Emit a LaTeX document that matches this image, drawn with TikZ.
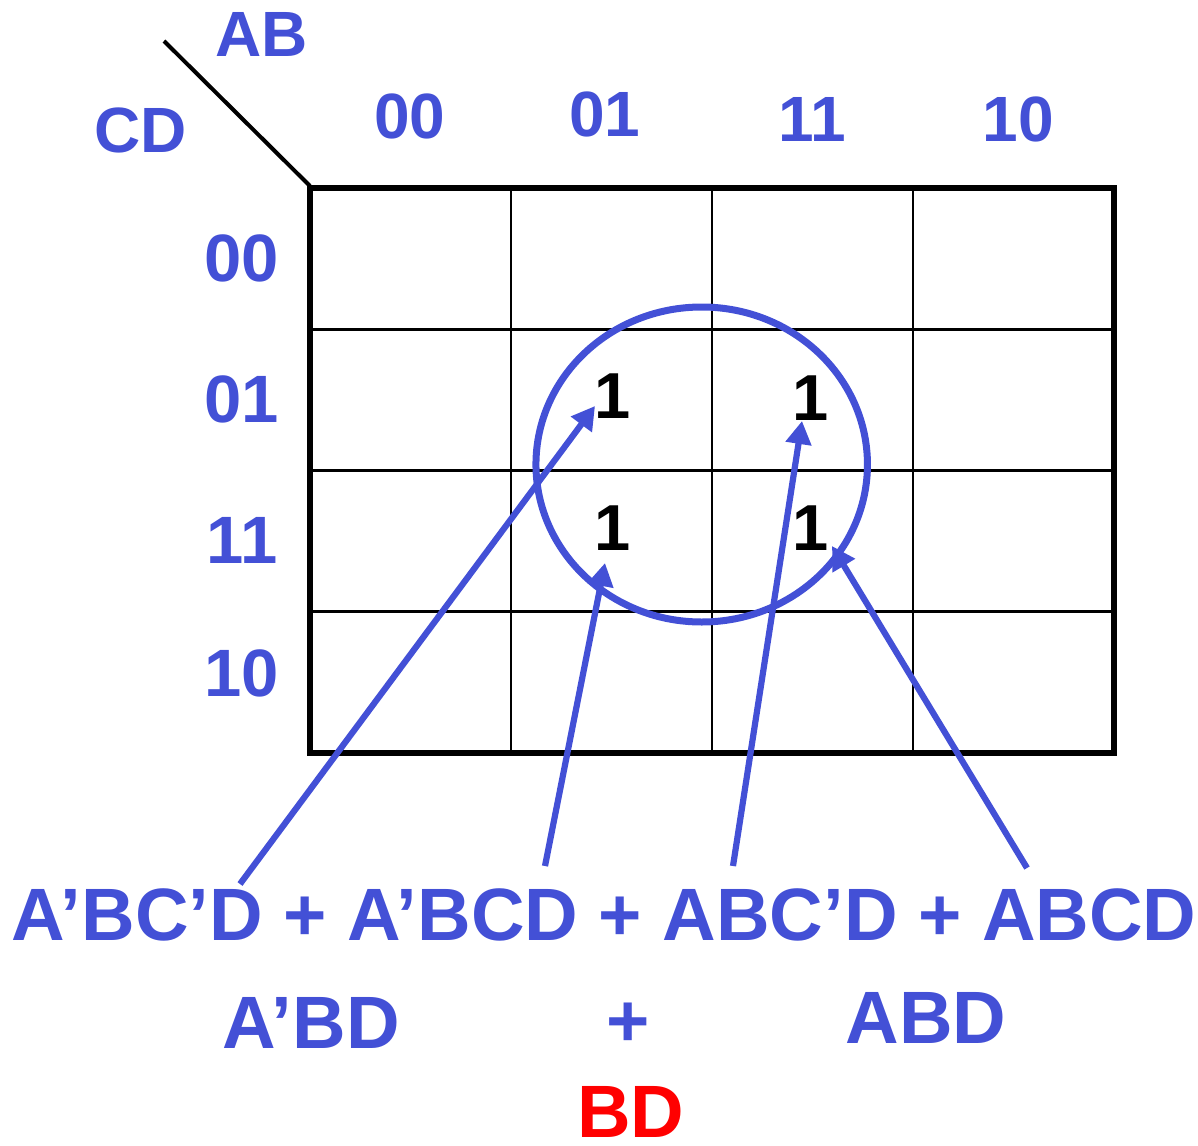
\documentclass[tikz,border=0pt]{standalone}
\usepackage{fontspec}
\setmainfont{Liberation Sans}
\usetikzlibrary{arrows.meta}
\definecolor{kblue}{RGB}{67,80,214}
\definecolor{kred}{RGB}{255,0,0}
\begin{document}
\begin{tikzpicture}[x=1pt,y=-1pt,
  hdr/.style={text=kblue, inner sep=0, anchor=base, font=\bfseries\fontsize{64}{70}\selectfont},
  rowlab/.style={text=kblue, inner sep=0, anchor=base, font=\bfseries\fontsize{67}{72}\selectfont},
  one/.style={text=black, inner sep=0, anchor=base, font=\bfseries\fontsize{65}{70}\selectfont},
  expr/.style={text=kblue, inner sep=0, anchor=base, font=\bfseries\fontsize{74.2}{80}\selectfont},
  thin/.style={line width=2.6pt, black},
  thick/.style={line width=5.5pt, black},
  ptr/.style={draw=kblue, line width=6.2pt, -{Triangle[length=23pt,width=25pt]}},
  loop/.style={draw=kblue, line width=7pt}
]
\useasboundingbox (0,0) rectangle (1198,1145);

% grid
\foreach \x in {511,712,913} \draw[thin] (\x,188) -- (\x,753);
\foreach \y in {329.25,470.5,611.75} \draw[thin] (310,\y) -- (1114,\y);
\draw[thick] (310,188) rectangle (1114,753);
\coordinate (corner) at (310,186);
\coordinate (diagend) at (164,41);
\draw[line width=4pt] (diagend) -- (corner);

% header labels
\node[hdr] (AB) at (262,57) {AB};
\node[hdr] (CD) at (141,152) {CD};
\node[hdr] (c00) at (410,139) {00};
\node[hdr] (c01) at (605,136.7) {01};
\node[hdr] (c11) at (812,141.7) {11};
\node[hdr] (c10) at (1018,141.7) {10};
\node[rowlab] (r00) at (242,281.5) {00};
\node[rowlab] (r01) at (242,422) {01};
\node[rowlab] (r11) at (242,563) {11};
\node[rowlab] (r10) at (242,696) {10};

% ones
\node[one] (m5) at (612.5,418) {1};
\node[one] (m13) at (811,420) {1};
\node[one] (m7) at (612.5,550) {1};
\node[one] (m15) at (811,550) {1};

% group loop
\draw[loop] (701.7,464.5) ellipse [x radius=165.75, y radius=157.5];

% expressions
\node[expr] (sop) at (604,940) {A’BC’D + A’BCD + ABC’D + ABCD};
\node[expr] (t1) at (311,1048) {A’BD};
\node[expr] (plus) at (628,1046) {+};
\node[expr] (t2) at (926,1043) {ABD};
\node[expr, text=kred] (res) at (631,1137) {BD};

% arrows
\coordinate (s1) at (240,884);
\coordinate (e1) at (595,406);
\coordinate (s2) at (545,866);
\coordinate (e2) at (605,563);
\coordinate (s3) at (733,866);
\coordinate (e3) at (802,421);
\coordinate (s4) at (1027,868);
\coordinate (e4) at (832,546);
\draw[ptr] (s1) -- (e1);
\draw[ptr] (s2) -- (e2);
\draw[ptr] (s3) -- (e3);
\draw[ptr] (s4) -- (e4);
\end{tikzpicture}
\end{document}
